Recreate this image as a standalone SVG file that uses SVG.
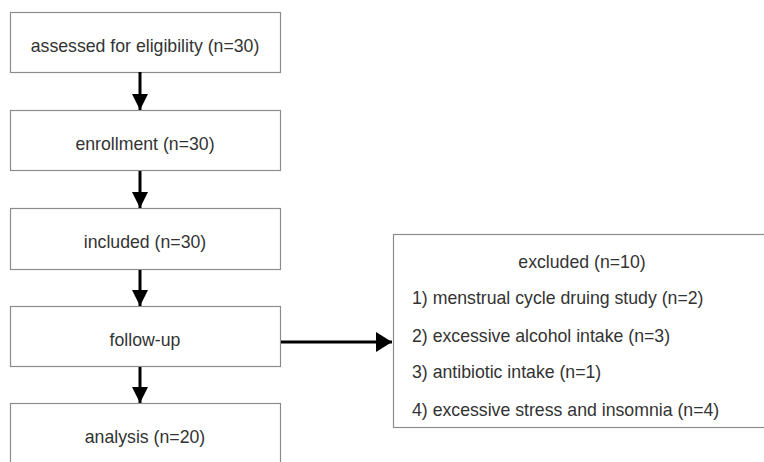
<svg xmlns="http://www.w3.org/2000/svg" width="764" height="462" viewBox="0 0 764 462">
<style>
.box{fill:#fff;stroke:#8c8c8c;stroke-width:1.2}
.t{font-family:"Liberation Sans",Arial,sans-serif;font-size:17.7px;fill:#333}
.c{text-anchor:middle}
.ln{stroke:#000;stroke-width:3;fill:none}
</style>
<defs>
<marker id="ah" viewBox="0 0 16 20" refX="16" refY="10" markerWidth="16" markerHeight="20" markerUnits="userSpaceOnUse" orient="auto">
<path d="M0,0 L16,10 L0,20 Z" fill="#000"/>
</marker>
<marker id="av" viewBox="0 0 20 16" refX="10" refY="16" markerWidth="20" markerHeight="16" markerUnits="userSpaceOnUse" orient="0">
<path d="M2,0 L18,0 L10,16 Z" fill="#000"/>
</marker>
</defs>
<rect width="764" height="462" fill="#fff"/>
<g id="n1"><rect class="box" x="10.5" y="12.5" width="270" height="60"/><text class="t c" x="145" y="51.5">assessed for eligibility (n=30)</text></g>
<g id="n2"><rect class="box" x="10.5" y="110.5" width="270" height="60"/><text class="t c" x="145" y="150">enrollment (n=30)</text></g>
<g id="n3"><rect class="box" x="10.5" y="208.5" width="270" height="61"/><text class="t c" x="145" y="248">included (n=30)</text></g>
<g id="n4"><rect class="box" x="10.5" y="306.5" width="270" height="60"/><text class="t c" x="145" y="346">follow-up</text></g>
<g id="n5"><rect class="box" x="10.5" y="403.5" width="270" height="61"/><text class="t c" x="145" y="443">analysis (n=20)</text></g>
<g id="n6"><rect class="box" x="393.5" y="234.5" width="380" height="193"/>
<text class="t c" x="582" y="267.5">excluded (n=10)</text>
<text class="t" x="412" y="304">1) menstrual cycle druing study (n=2)</text>
<text class="t" x="412" y="341.5">2) excessive alcohol intake (n=3)</text>
<text class="t" x="412" y="378">3) antibiotic intake (n=1)</text>
<text class="t" x="412" y="415.5">4) excessive stress and insomnia (n=4)</text>
</g>
<g id="connectors">
<line class="ln" x1="140" y1="72" x2="140" y2="110" marker-end="url(#av)"/>
<line class="ln" x1="140" y1="171" x2="140" y2="208" marker-end="url(#av)"/>
<line class="ln" x1="140" y1="270" x2="140" y2="306" marker-end="url(#av)"/>
<line class="ln" x1="140" y1="367" x2="140" y2="403" marker-end="url(#av)"/>
<line class="ln" x1="281" y1="342" x2="392" y2="342" marker-end="url(#ah)"/>
</g>
</svg>
